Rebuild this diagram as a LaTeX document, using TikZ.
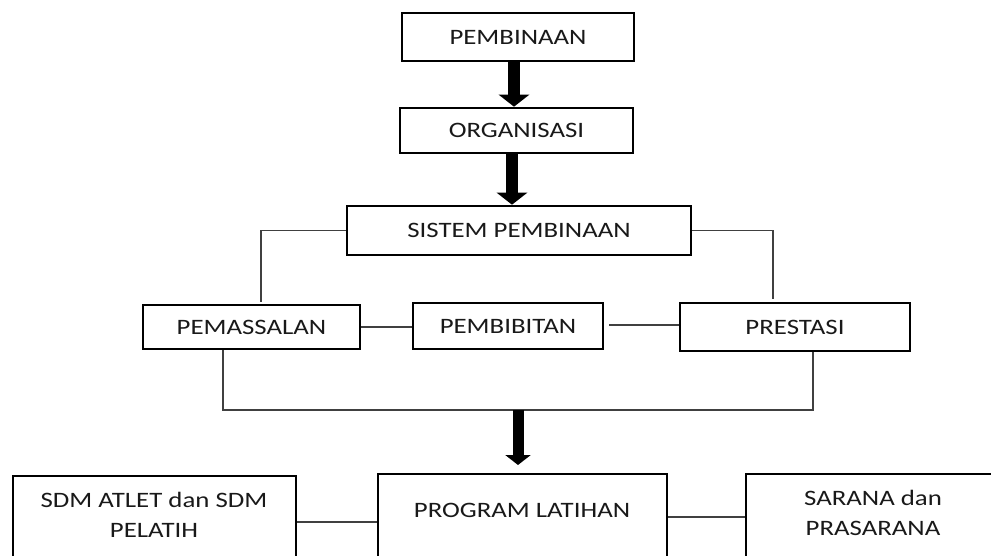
\documentclass[tikz,border=0pt]{standalone}
\usepackage{fontspec}
\setmainfont[FakeStretch=1.22]{Carlito}
\usetikzlibrary{arrows.meta,calc}
\tikzset{
  box/.style={draw=black,line width=2.6pt,rectangle,inner sep=0pt,font=\fontsize{22}{30}\selectfont,text=black!90},
  conn/.style={draw=black!75,line width=1.4pt},
  bigarrow/.style={draw=black,line width=12pt,-{Triangle[width=30pt,length=12pt]}},
  lbl/.style={font=\fontsize{22}{30}\selectfont,text=black!90,align=center,inner sep=0pt}
}
\begin{document}
\begin{tikzpicture}[x=1pt,y=-1pt]
\clip (0,0) rectangle (991,555);
\fill[white] (0,0) rectangle (991,555);
% top chain
\node[box,minimum width=232pt,minimum height=48pt] (pemb) at (518,37) {PEMBINAAN};
\node[box,minimum width=233pt,minimum height=45pt] (org) at (516.5,130.5) {ORGANISASI};
\node[box,minimum width=344pt,minimum height=49pt] (sis) at (519,230.5) {SISTEM PEMBINAAN};
% middle row
\node[box,minimum width=217pt,minimum height=44pt] (pmas) at (251.5,327) {PEMASSALAN};
\node[box,minimum width=190pt,minimum height=46pt] (pbib) at (508,326) {PEMBIBITAN};
\node[box,minimum width=230pt,minimum height=48pt] (pres) at (795,327) {PRESTASI};
% bottom row (extends past lower edge)
\node[box,minimum width=283pt,minimum height=92pt] (sdm) at (154.5,522) {};
\node[box,minimum width=289pt,minimum height=96pt] (prog) at (522.5,522) {};
\node[box,minimum width=254pt,minimum height=96pt] (sar) at (873,522) {};
\node[lbl] (sdmt) at (154,515) {SDM ATLET dan SDM\\PELATIH};
\node[lbl] (progt) at (522,510) {PROGRAM LATIHAN};
\node[lbl] (sart) at (873,513) {SARANA dan\\PRASARANA};
% thick arrows
\draw[bigarrow] ([xshift=-4pt]pemb.south) -- ([xshift=-2.5pt]org.north);
\draw[bigarrow] ([xshift=-4.5pt]org.south) -- ([xshift=-7pt]sis.north);
% connectors from SISTEM PEMBINAAN
\draw[conn] (sis.west) -| ([xshift=9.5pt,yshift=2pt]pmas.north);
\draw[conn] (sis.east) -| ([xshift=-22pt,yshift=3pt]pres.north);
% middle connectors
\draw[conn] (pmas.east) -- (pmas.east -| pbib.west);
\draw[conn] ([xshift=5pt,yshift=1pt]pbib.east) -- ([yshift=1pt]pbib.east -| pres.west);
% bracket
\coordinate (brk) at (518,410);
\coordinate (a3e) at (518,465);
\draw[conn] ([xshift=-28.5pt]pmas.south) |- (brk) -| ([xshift=18pt]pres.south);
\draw[bigarrow,line width=11pt,-{Triangle[width=25pt,length=10pt]}] (brk) -- (a3e);
% bottom connectors
\draw[conn] (sdm.east) -- (sdm.east -| prog.west);
\draw[conn] ([yshift=5pt]prog.east) -- ([yshift=5pt]prog.east -| sar.west);
\end{tikzpicture}
\end{document}
